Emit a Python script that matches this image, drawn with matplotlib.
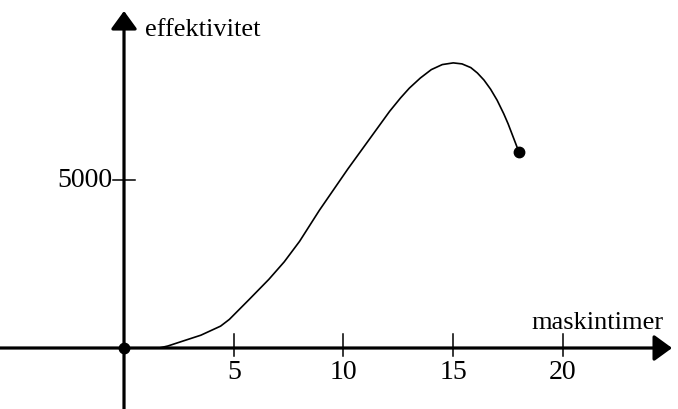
import matplotlib.pyplot as plt

plt.rcParams['font.family'] = ['Liberation Serif', 'DejaVu Serif']

# machine hours vs efficiency
hours = [0, 1.6, 2.0, 2.7, 3.5, 4.4, 4.8, 5.7, 6.6, 7.3, 8.0, 8.9, 10.2,
         11.4, 12.1, 12.6, 13.0, 13.5, 14.0, 14.5, 15.0, 15.4, 15.8, 16.1,
         16.4, 16.7, 17.0, 17.3, 17.5, 17.7, 18.0]
effect = [0, 0, 60, 210, 380, 650, 850, 1440, 2040, 2560, 3170, 4090, 5320,
          6400, 7030, 7430, 7720, 8020, 8270, 8420, 8470, 8440, 8330, 8170,
          7960, 7690, 7360, 6960, 6660, 6320, 5810]

xticks = [5, 10, 15, 20]
yticks = [5000]

fig = plt.figure(figsize=(6.78, 4.10), dpi=100)
ax = fig.add_axes([0, 0, 1, 1])
ax.set_xlim(-5.65, 25.24)
ax.set_ylim(-1812, 10368)
ax.axis('off')

arrow = dict(arrowstyle='-|>,head_length=0.55,head_width=0.4',
             lw=2.3, color='black', mutation_scale=20, shrinkA=0, shrinkB=0)
# x axis and y axis with arrow heads
ax.annotate('', xy=(24.97, 0), xytext=(-5.65, 0), arrowprops=arrow)
ax.annotate('', xy=(0, 10012), xytext=(0, -1812), arrowprops=arrow)

for t in xticks:
    ax.plot([t, t], [-240, 420], color='black', lw=1.1)
    ax.text(t, -700, str(t), ha='center', va='center', fontsize=20)
for t in yticks:
    ax.plot([-0.5, 0.5], [t, t], color='black', lw=1.1)
    ax.text(-0.55, t, str(t), ha='right', va='center', fontsize=20)

ax.text(0.95, 9480, 'effektivitet', ha='left', va='center', fontsize=19)
ax.text(24.6, 760, 'maskintimer', ha='right', va='center', fontsize=19)

ax.plot(hours, effect, color='black', lw=1.2, solid_capstyle='round',
        solid_joinstyle='round')
ax.plot([hours[0], hours[-1]], [effect[0], effect[-1]], 'o', color='black',
        markersize=7.5)

fig.savefig('out.png', dpi=100)
